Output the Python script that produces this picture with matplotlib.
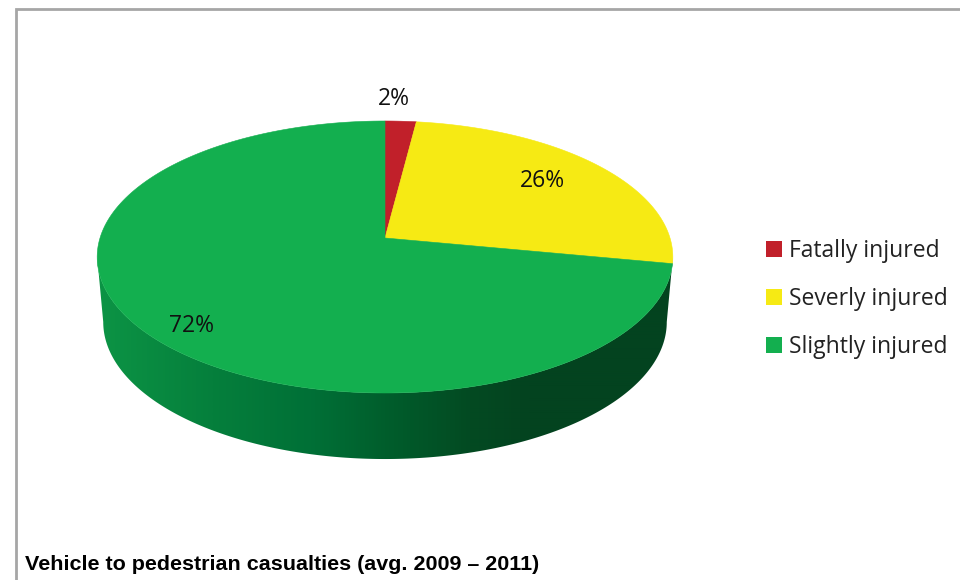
import numpy as np
import matplotlib
matplotlib.use("Agg")
import matplotlib.pyplot as plt
from matplotlib.colors import LinearSegmentedColormap
from matplotlib.patches import Polygon, Rectangle

categories = ["Fatally injured", "Severly injured", "Slightly injured"]
shares = [2, 26, 72]
value_labels = ["2%", "26%", "72%"]
colors = ["#c1202a", "#f6ea14", "#13af4f"]
caption = "Vehicle to pedestrian casualties (avg. 2009 \u2013 2011)"

# perspective of the disc, everything below is in pixels
CX = 385
TILT = 0.1397
TOP_K, TOP_A, TOP_B = 285, -100.1, 238
BASE_K, BASE_A, BASE_B = 279, -92.0, 302.9


def project(theta, k, a, b):
    # theta is clockwise from 12 o'clock on the flat disc
    u, v = np.sin(theta), np.cos(theta)
    w = 1 + TILT * v
    return np.column_stack((CX + k * u / w, (a * v + b) / w))


def top_point(theta):
    return project(theta, TOP_K, TOP_A, TOP_B)


fig = plt.figure(figsize=(9.6, 5.8), dpi=100)
ax = fig.add_axes([0, 0, 1, 1])

# frame of the chart, open on the right and at the bottom
ax.plot([16, 16, 960], [580, 9, 9], color="#a6a6a6", lw=2, solid_joinstyle="miter")

# side wall between the two silhouette points, shaded left to right
side_cmap = LinearSegmentedColormap.from_list(
    "side",
    [(0.0, "#0c9445"), (0.2, "#057f3c"), (0.38, "#006f36"), (0.5, "#005e2c"),
     (0.65, "#034a22"), (0.75, "#03431f"), (1.0, "#03431f")],
)
edges = np.radians(np.arange(98, 262.5, 0.5))
wall = Polygon(
    np.vstack((top_point(edges), project(edges, BASE_K, BASE_A, BASE_B)[::-1])),
    closed=True, transform=ax.transData,
)
shade = ax.imshow(np.linspace(0, 1, 576)[None, :], extent=[97, 673, 465, 250],
                  cmap=side_cmap, aspect="auto", interpolation="bilinear")
shade.set_clip_path(wall)

ax.set_xlim(0, 960)
ax.set_ylim(580, 0)
ax.axis("off")

# top face, one wedge per category
apex = [CX, TOP_B]
start = 0.0
for share, color in zip(shares, colors):
    end = start + share / sum(shares) * 2 * np.pi
    arc = top_point(np.linspace(start, end, 200))
    ax.add_patch(Polygon(np.vstack(([apex], arc)), closed=True, facecolor=color, edgecolor=color, lw=0.4))
    start = end

label_font = "Open Sans"
label_pos = [(394, 99), (542, 181), (191, 326)]
for text, (x, y) in zip(value_labels, label_pos):
    ax.text(x, y, text, ha="center", va="center", fontsize=16.5, color="#111111", family=label_font)

# legend
legend_y = [249, 297, 345]
for name, color, y in zip(categories, colors, legend_y):
    ax.add_patch(Rectangle((766, y - 8), 16, 16, facecolor=color, edgecolor="none"))
    ax.text(789, y + 2, name, ha="left", va="center", fontsize=16.5, color="#222222", family=label_font)

ax.text(25, 564, caption, ha="left", va="center", fontsize=15.45, fontweight="bold", color="black", family="Liberation Sans")

fig.savefig("out.png", dpi=100)
plt.close(fig)
